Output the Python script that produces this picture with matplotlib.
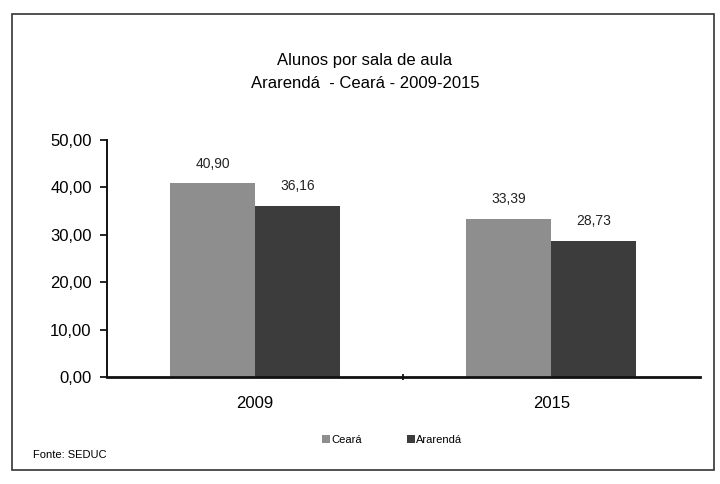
import matplotlib
matplotlib.use('Agg')
import matplotlib.pyplot as plt
import numpy as np
from matplotlib.patches import Rectangle

plt.rcParams['font.family'] = ['Liberation Sans', 'DejaVu Sans']

anos = ['2009', '2015']
ceara = [40.90, 33.39]
ararenda = [36.16, 28.73]
yticks = [0, 10, 20, 30, 40, 50]

fig = plt.figure(figsize=(7.2, 4.84), dpi=100)
fig.patch.set_facecolor('white')

# moldura externa
fig.patches.append(Rectangle((12 / 720, 1 - 470 / 484), 702 / 720, 456 / 484,
                             transform=fig.transFigure, fill=False,
                             edgecolor='#333333', linewidth=1.2))

ax = fig.add_axes([0.1486, 0.221, 0.823, 0.49])
x = np.arange(len(anos))
w = 0.287
b1 = ax.bar(x - w / 2, ceara, w, color='#8e8e8e', label='Ceará')
b2 = ax.bar(x + w / 2, ararenda, w, color='#3c3c3c', label='Ararendá')

for bars, vals in [(b1, ceara), (b2, ararenda)]:
    for r, v in zip(bars, vals):
        ax.annotate(f'{v:.2f}'.replace('.', ','), (r.get_x() + r.get_width() / 2, v),
                    xytext=(0, 9), textcoords='offset points',
                    ha='center', va='bottom', fontsize=10, color='#222222')

ax.set_xlim(-0.5, 1.5)
ax.set_ylim(0, 50)
ax.set_yticks(yticks)
ax.set_yticklabels([f'{t:.2f}'.replace('.', ',') for t in yticks], fontsize=12)
ax.set_xticks(x)
ax.set_xticklabels(anos, fontsize=12)
ax.set_xticks([0.5], minor=True)
ax.tick_params(axis='x', which='major', length=0, pad=14)
ax.tick_params(axis='x', which='minor', length=5, direction='inout', width=1.2)
ax.tick_params(axis='y', length=5, width=1.2, direction='out', pad=6)

for s in ['top', 'right']:
    ax.spines[s].set_visible(False)
ax.spines['left'].set_linewidth(1.4)
ax.spines['bottom'].set_linewidth(2)
ax.spines['left'].set_color('#111111')
ax.spines['bottom'].set_color('#111111')

fig.text(0.507, 1 - 60 / 484, 'Alunos por sala de aula', ha='center', va='center', fontsize=12)
fig.text(0.507, 1 - 83 / 484, 'Ararendá  - Ceará - 2009-2015', ha='center', va='center', fontsize=12)

fig.legend(loc='center', bbox_to_anchor=(0.545, 1 - 440 / 484), ncol=2, frameon=False,
           fontsize=8, handlelength=0.7, handleheight=0.7, handletextpad=0.15,
           columnspacing=4)

fig.text(33 / 720, 1 - 455 / 484, 'Fonte: SEDUC', ha='left', va='center', fontsize=8)

plt.savefig('out.png', dpi=100)
plt.close()
